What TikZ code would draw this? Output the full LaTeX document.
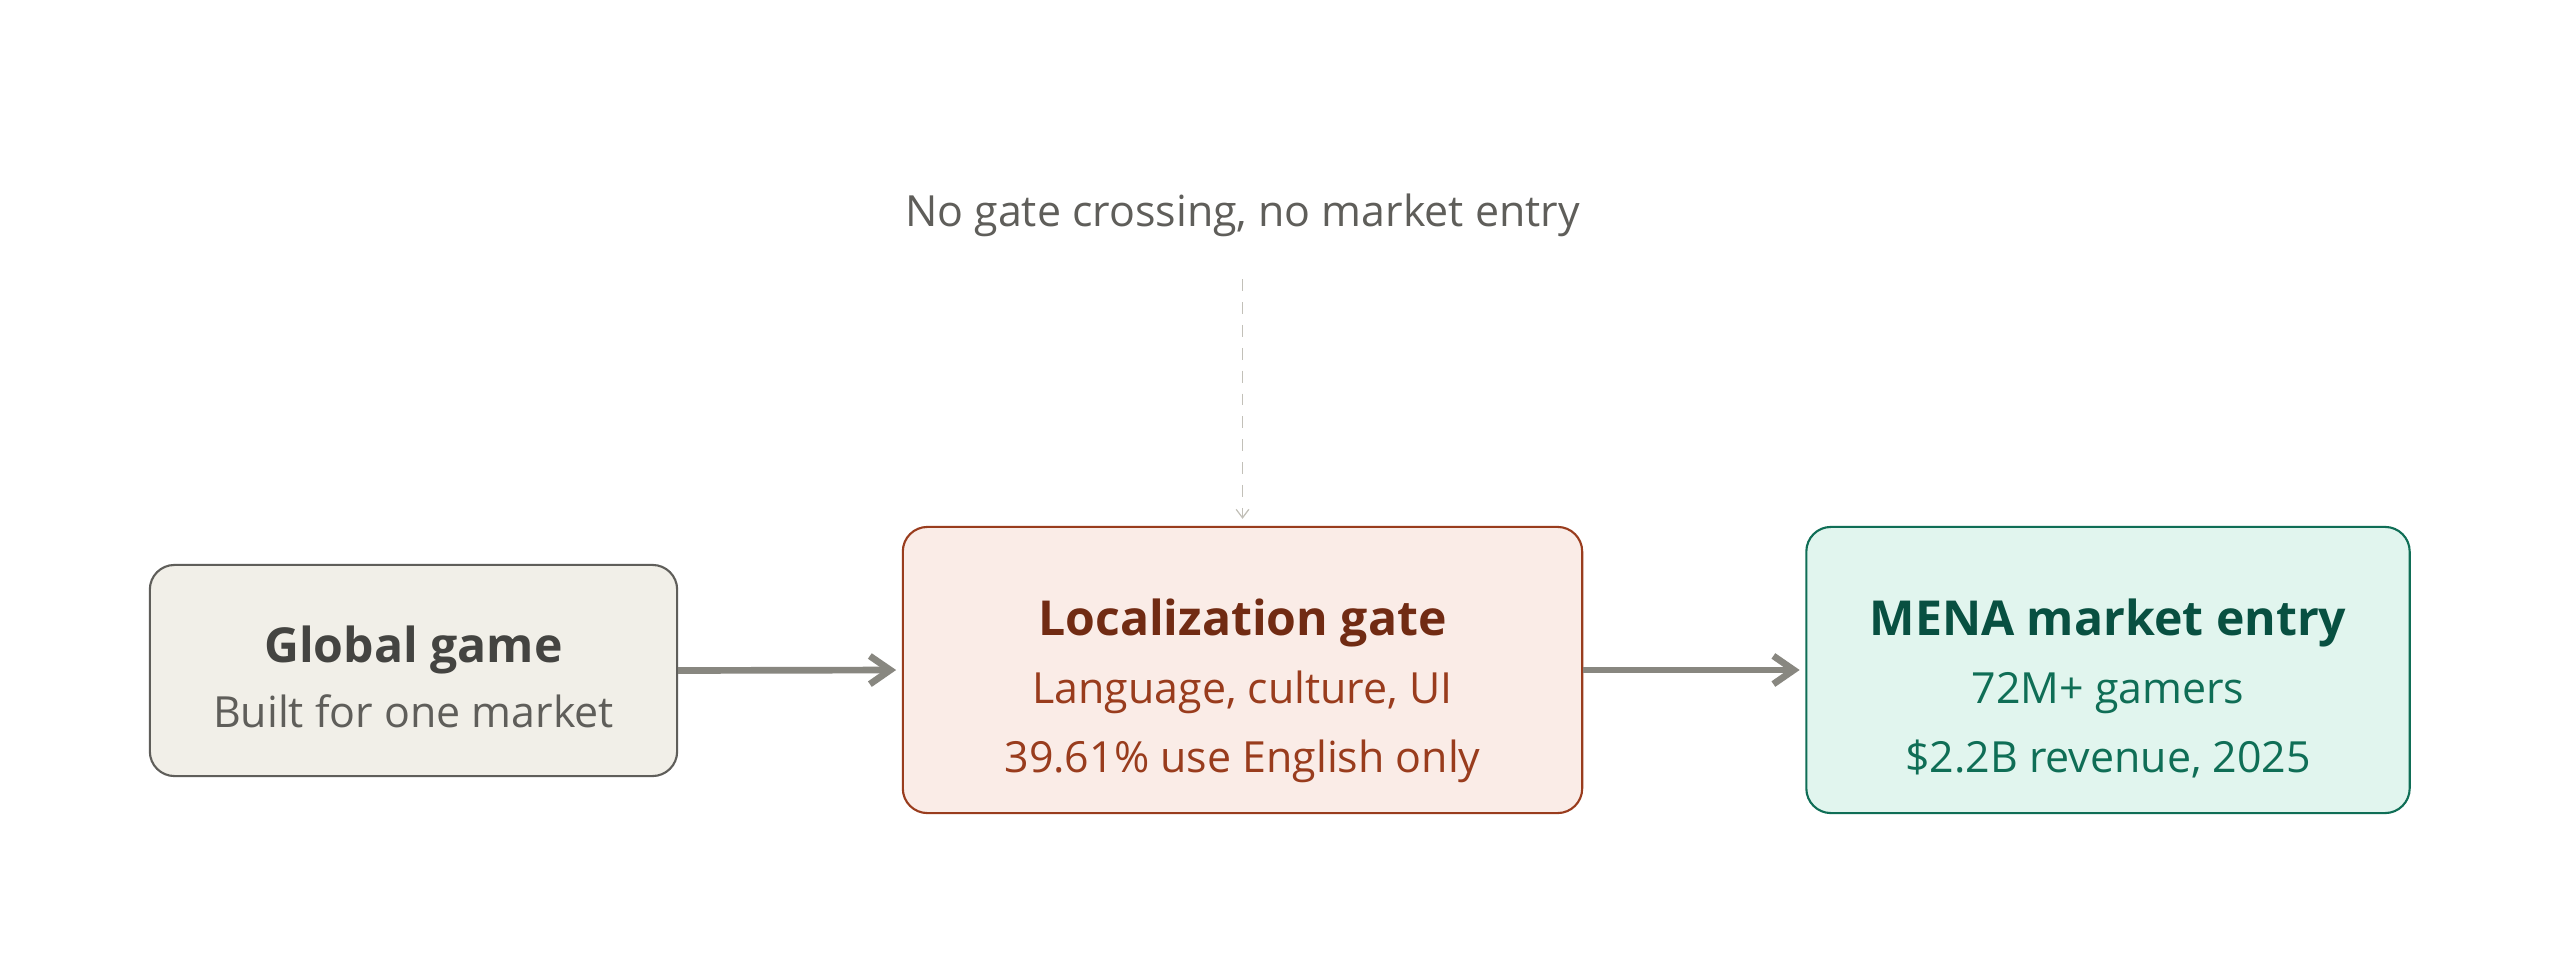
\documentclass[tikz,border=0pt]{standalone}
\usepackage{fontspec}
\setmainfont{Open Sans}
\usetikzlibrary{arrows.meta}
\definecolor{gamefill}{HTML}{F1EFE8}
\definecolor{gameline}{HTML}{5F5E5A}
\definecolor{gamedark}{HTML}{444441}
\definecolor{gatefill}{HTML}{FAECE7}
\definecolor{gateline}{HTML}{993C1D}
\definecolor{gatedark}{HTML}{712B13}
\definecolor{menafill}{HTML}{E1F5EE}
\definecolor{menaline}{HTML}{0F6E56}
\definecolor{menadark}{HTML}{085041}
\definecolor{flowgray}{HTML}{888780}
\definecolor{hintgray}{HTML}{C2C0B8}
\tikzset{
  stagebox/.style={draw, line width=0.6pt, rounded corners=7pt, inner sep=0pt},
  titletext/.style={anchor=base, inner sep=0pt, font=\bfseries\fontsize{13.7pt}{17pt}\selectfont},
  subtext/.style={anchor=base, inner sep=0pt, font=\fontsize{12.2pt}{15pt}\selectfont},
  flow/.style={draw=flowgray, line width=1.9pt, -{Straight Barb[length=5.8pt,width=8pt]}},
  hint/.style={draw=hintgray, line width=0.35pt, dash pattern=on 3.4pt off 3.1pt, -{Straight Barb[length=2.4pt,width=3.6pt]}}
}
\begin{document}
\begin{tikzpicture}[x=0.01cm,y=-0.01cm]
  \useasboundingbox[fill=white] (0,0) rectangle (2560,979);
  % the three stages
  \node[stagebox, fill=gamefill, draw=gameline, minimum width=5.27cm, minimum height=2.11cm] (game) at (413.5,670.5) {};
  \node[stagebox, fill=gatefill, draw=gateline, minimum width=6.79cm, minimum height=2.86cm] (gate) at (1242.5,670) {};
  \node[stagebox, fill=menafill, draw=menaline, minimum width=6.03cm, minimum height=2.86cm] (mena) at (2108,670) {};
  % texts
  \node[titletext, text=gamedark] (gametitle) at (413.5,662) {Global game};
  \node[subtext, text=gameline] (gamesub) at (413.5,727) {Built for one market};
  \node[titletext, text=gatedark] (gatetitle) at (1242.5,635) {Localization gate};
  \node[subtext, text=gateline] (gatesub) at (1242.5,703) {Language, culture, UI};
  \node[subtext, text=gateline] (gatestat) at (1242.5,772) {39.61\% use English only};
  \node[titletext, text=menadark] (menatitle) at (2108,635) {MENA market entry};
  \node[subtext, text=menaline] (menasub) at (2108,703) {72M+ gamers};
  \node[subtext, text=menaline] (menastat) at (2108,772) {\$2.2B revenue, 2025};
  \node[subtext, text=gameline] (note) at (1242.5,226) {No gate crossing, no market entry};
  % connectors
  \draw[flow, shorten >=1.6pt] (game.east) -- (gate.west);
  \draw[flow, shorten >=1.6pt] (gate.east) -- (mena.west);
  \draw[hint, shorten <=12pt, shorten >=2pt] (note.south) -- (gate.north);
\end{tikzpicture}
\end{document}
